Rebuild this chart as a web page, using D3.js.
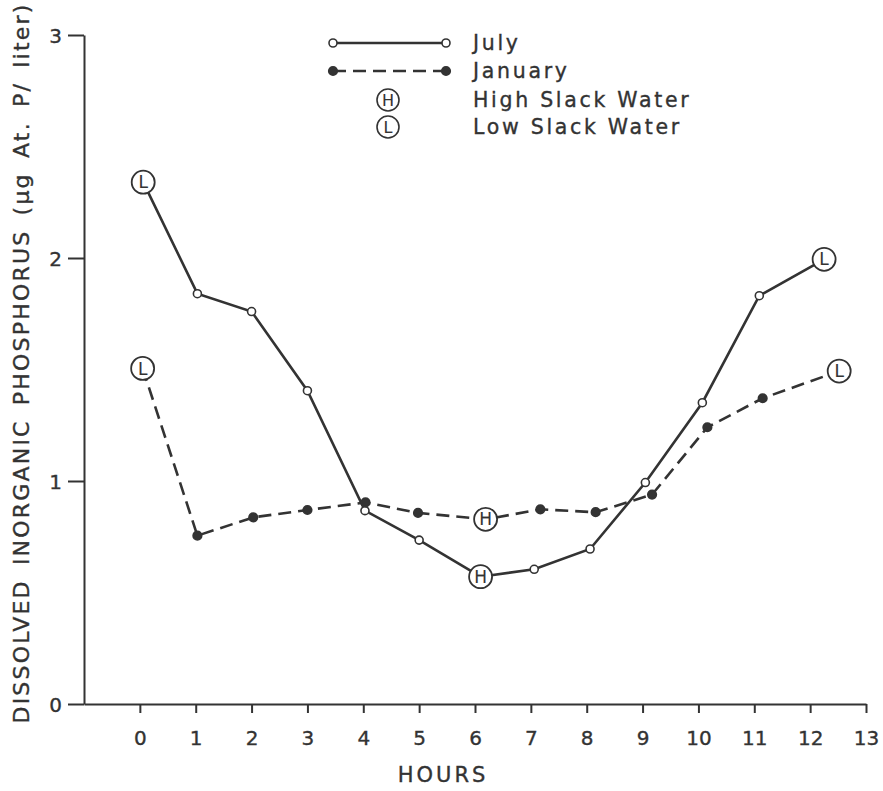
<!DOCTYPE html>
<html>
<head>
<meta charset="utf-8">
<script src="https://cdn.jsdelivr.net/npm/d3@7"></script>
<style>
  html, body { margin: 0; padding: 0; background: #fff; }
  svg { display: block; }
  text { font-family: "DejaVu Sans", sans-serif; fill: #333; stroke: #333; stroke-width: 0.35px; }
</style>
</head>
<body>
<svg id="chart" width="883" height="791"></svg>
<script>
// Hour of each sample and dissolved inorganic phosphorus (µg At. P/liter)
const julyHours  = [0.06, 1.03, 2.0, 3.0, 4.03, 5.0, 6.1, 7.06, 8.06, 9.05, 10.07, 11.09, 12.25];
const julyValues = [2.34, 1.84, 1.76, 1.405, 0.867, 0.735, 0.571, 0.604, 0.695, 0.993, 1.351, 1.831, 1.994];
const janHours   = [0.05, 1.03, 2.03, 3.0, 4.04, 4.98, 6.19, 7.17, 8.16, 9.17, 10.16, 11.15, 12.52];
const janValues  = [1.505, 0.755, 0.837, 0.870, 0.904, 0.857, 0.828, 0.873, 0.860, 0.939, 1.241, 1.371, 1.493];
// Tide stage at each sample: "L" low slack, "H" high slack, "" none
const julyTide = ["L", "", "", "", "", "", "H", "", "", "", "", "", "L"];
const janTide  = ["L", "", "", "", "", "", "H", "", "", "", "", "", "L"];

const xTicks = d3.range(0, 14);
const yTicks = [0, 1, 2, 3];
const legendLabels = ["July", "January", "High Slack Water", "Low Slack Water"];

const ink = "#333";
const svg = d3.select("#chart");

const x = d3.scaleLinear().domain([-1, 13]).range([84, 866]);
const y = d3.scaleLinear().domain([0, 3]).range([704, 35]);

// Axes
const xAxis = svg.append("g")
  .attr("transform", `translate(0,${y(0)})`)
  .call(d3.axisBottom(x).tickValues(xTicks).tickSize(9).tickSizeOuter(0).tickFormat(d3.format("d")));
const yAxis = svg.append("g")
  .attr("transform", `translate(${x(-1)},0)`)
  .call(d3.axisLeft(y).tickValues(yTicks).tickSize(16).tickSizeOuter(0).tickFormat(d3.format("d")));

[xAxis, yAxis].forEach(g => {
  g.select(".domain").attr("stroke", ink).attr("stroke-width", 2);
  g.selectAll(".tick line").attr("stroke", ink).attr("stroke-width", 2);
  g.selectAll(".tick text")
    .attr("fill", ink)
    .style("font-family", "DejaVu Sans, sans-serif")
    .style("font-size", "20px");
});
xAxis.selectAll(".tick text").attr("y", 41).attr("dy", 0);
yAxis.selectAll(".tick text").attr("x", -22).attr("dy", "0.36em");

// Axis titles
svg.append("text")
  .attr("x", 443).attr("y", 782)
  .attr("text-anchor", "middle")
  .style("font-size", "21px")
  .style("letter-spacing", "3px")
  .text("HOURS");

svg.append("text")
  .attr("transform", "translate(29,363) rotate(-90)")
  .attr("text-anchor", "middle")
  .style("font-size", "22px")
  .style("letter-spacing", "2.2px")
  .style("word-spacing", "5px")
  .text("DISSOLVED INORGANIC PHOSPHORUS (µg At. P/ liter)");

const line = d3.line().x(d => x(d[0])).y(d => y(d[1]));
const julyPts = julyHours.map((h, i) => [h, julyValues[i], julyTide[i]]);
const janPts  = janHours.map((h, i) => [h, janValues[i], janTide[i]]);

function drawSeries(pts, dashed, filled) {
  svg.append("path")
    .datum(pts)
    .attr("fill", "none")
    .attr("stroke", ink)
    .attr("stroke-width", 2.6)
    .attr("stroke-dasharray", dashed ? "13,7" : null)
    .attr("d", line);

  svg.append("g").selectAll("circle")
    .data(pts.filter(p => !p[2]))
    .join("circle")
    .attr("cx", d => x(d[0]))
    .attr("cy", d => y(d[1]))
    .attr("r", filled ? 4.3 : 4)
    .attr("fill", filled ? ink : "#fff")
    .attr("stroke", ink)
    .attr("stroke-width", 1.6);

  const tide = svg.append("g").selectAll("g")
    .data(pts.filter(p => p[2]))
    .join("g")
    .attr("transform", d => `translate(${x(d[0])},${y(d[1])})`);
  tide.append("circle")
    .attr("r", 11.5)
    .attr("fill", "#fff")
    .attr("stroke", ink)
    .attr("stroke-width", 1.8);
  tide.append("text")
    .attr("text-anchor", "middle")
    .attr("dy", "0.36em")
    .style("font-size", "17px")
    .style("stroke-width", "0.1px")
    .text(d => d[2]);
}

drawSeries(julyPts, false, false);
drawSeries(janPts, true, true);

// Legend
const legend = svg.append("g");
const lx0 = 333, lx1 = 446, lmid = 388, tx = 473;
const rows = [43, 71, 100, 127];

legend.append("line")
  .attr("x1", lx0).attr("x2", lx1).attr("y1", rows[0]).attr("y2", rows[0])
  .attr("stroke", ink).attr("stroke-width", 2.6);
legend.selectAll(".ojuly").data([lx0, lx1]).join("circle")
  .attr("cx", d => d).attr("cy", rows[0]).attr("r", 4)
  .attr("fill", "#fff").attr("stroke", ink).attr("stroke-width", 1.6);

legend.append("line")
  .attr("x1", lx0).attr("x2", lx1).attr("y1", rows[1]).attr("y2", rows[1])
  .attr("stroke", ink).attr("stroke-width", 2.6).attr("stroke-dasharray", "13,7");
legend.selectAll(".ojan").data([lx0, lx1]).join("circle")
  .attr("cx", d => d).attr("cy", rows[1]).attr("r", 4.3)
  .attr("fill", ink).attr("stroke", ink).attr("stroke-width", 1.6);

["H", "L"].forEach((s, i) => {
  const g = legend.append("g").attr("transform", `translate(${lmid},${rows[2 + i]})`);
  g.append("circle").attr("r", 11).attr("fill", "#fff").attr("stroke", ink).attr("stroke-width", 1.6);
  g.append("text").attr("text-anchor", "middle").attr("dy", "0.36em")
    .style("font-size", "16px").style("stroke-width", "0.1px").text(s);
});

legend.selectAll("text.lbl")
  .data(legendLabels)
  .join("text")
  .attr("class", "lbl")
  .attr("x", tx)
  .attr("y", (d, i) => rows[i] + 7)
  .style("font-size", "20.5px")
  .style("letter-spacing", "2.7px")
  .text(d => d);
</script>
</body>
</html>
